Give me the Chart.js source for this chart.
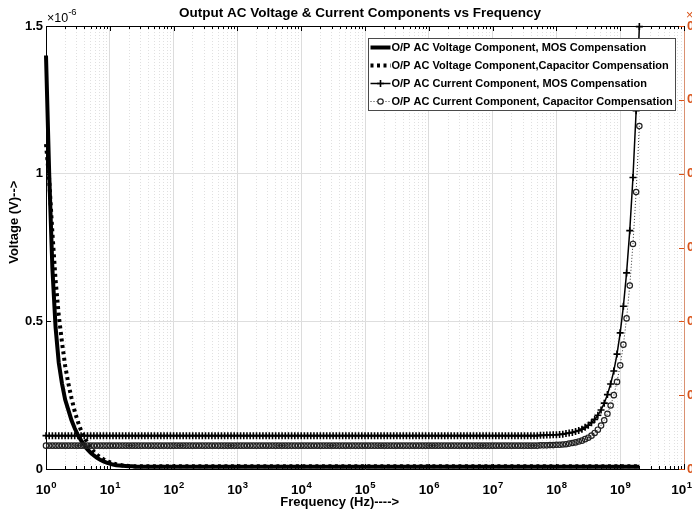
<!DOCTYPE html>
<html>
<head>
<meta charset="utf-8">
<title>Output AC Voltage &amp; Current Components vs Frequency</title>
<script src="https://cdn.jsdelivr.net/npm/chart.js@4.4.1/dist/chart.umd.min.js"></script>
<style>
  html, body { margin: 0; padding: 0; background: #fff; overflow: hidden; }
  canvas { display: block; }
</style>
</head>
<body>
<canvas id="acChart" width="720" height="526"></canvas>
<script>
// Balayage en fréquence : 1 Hz .. 2 GHz, 20 points par décade
const sweepStartExp = 0;
const sweepStepExp = 0.05;
const sweepCount = 187;
const freqHz = [];
for (let i = 0; i < sweepCount; i++) {
    freqHz.push(Math.pow(10, sweepStartExp + i * sweepStepExp));
}

// Valeurs (unité : 1e-6), une ligne par décade
const vMosComp = [
    1.40, 1.00, 0.68, 0.48, 0.36, 0.29, 0.235, 0.20, 0.165, 0.138, 0.115, 0.097, 0.080, 0.066, 0.055, 0.046, 0.038, 0.031, 0.026, 0.022,
    0.018, 0.015, 0.013, 0.012, 0.011, 0.010, 0.009, 0.009, 0.008, 0.008, 0.008, 0.008, 0.008, 0.008, 0.008, 0.008, 0.008, 0.008, 0.008, 0.008,
    0.008, 0.008, 0.008, 0.008, 0.008, 0.008, 0.008, 0.008, 0.008, 0.008, 0.008, 0.008, 0.008, 0.008, 0.008, 0.008, 0.008, 0.008, 0.008, 0.008,
    0.008, 0.008, 0.008, 0.008, 0.008, 0.008, 0.008, 0.008, 0.008, 0.008, 0.008, 0.008, 0.008, 0.008, 0.008, 0.008, 0.008, 0.008, 0.008, 0.008,
    0.008, 0.008, 0.008, 0.008, 0.008, 0.008, 0.008, 0.008, 0.008, 0.008, 0.008, 0.008, 0.008, 0.008, 0.008, 0.008, 0.008, 0.008, 0.008, 0.008,
    0.008, 0.008, 0.008, 0.008, 0.008, 0.008, 0.008, 0.008, 0.008, 0.008, 0.008, 0.008, 0.008, 0.008, 0.008, 0.008, 0.008, 0.008, 0.008, 0.008,
    0.008, 0.008, 0.008, 0.008, 0.008, 0.008, 0.008, 0.008, 0.008, 0.008, 0.008, 0.008, 0.008, 0.008, 0.008, 0.008, 0.008, 0.008, 0.008, 0.008,
    0.008, 0.008, 0.008, 0.008, 0.008, 0.008, 0.008, 0.008, 0.008, 0.008, 0.008, 0.008, 0.008, 0.008, 0.008, 0.008, 0.008, 0.008, 0.008, 0.008,
    0.008, 0.008, 0.008, 0.008, 0.008, 0.008, 0.008, 0.008, 0.008, 0.008, 0.008, 0.008, 0.008, 0.008, 0.008, 0.008, 0.008, 0.008, 0.008, 0.008,
    0.008, 0.008, 0.008, 0.008, 0.008, 0.008, 0.008
];

const vCapComp = [
    1.10, 0.98, 0.80, 0.64, 0.52, 0.43, 0.35, 0.29, 0.24, 0.195, 0.16, 0.13, 0.108, 0.088, 0.072, 0.059, 0.048, 0.040, 0.033, 0.027,
    0.023, 0.019, 0.016, 0.014, 0.012, 0.011, 0.010, 0.010, 0.009, 0.009, 0.009, 0.009, 0.009, 0.009, 0.009, 0.009, 0.009, 0.009, 0.009, 0.009,
    0.009, 0.009, 0.009, 0.009, 0.009, 0.009, 0.009, 0.009, 0.009, 0.009, 0.009, 0.009, 0.009, 0.009, 0.009, 0.009, 0.009, 0.009, 0.009, 0.009,
    0.009, 0.009, 0.009, 0.009, 0.009, 0.009, 0.009, 0.009, 0.009, 0.009, 0.009, 0.009, 0.009, 0.009, 0.009, 0.009, 0.009, 0.009, 0.009, 0.009,
    0.009, 0.009, 0.009, 0.009, 0.009, 0.009, 0.009, 0.009, 0.009, 0.009, 0.009, 0.009, 0.009, 0.009, 0.009, 0.009, 0.009, 0.009, 0.009, 0.009,
    0.009, 0.009, 0.009, 0.009, 0.009, 0.009, 0.009, 0.009, 0.009, 0.009, 0.009, 0.009, 0.009, 0.009, 0.009, 0.009, 0.009, 0.009, 0.009, 0.009,
    0.009, 0.009, 0.009, 0.009, 0.009, 0.009, 0.009, 0.009, 0.009, 0.009, 0.009, 0.009, 0.009, 0.009, 0.009, 0.009, 0.009, 0.009, 0.009, 0.009,
    0.009, 0.009, 0.009, 0.009, 0.009, 0.009, 0.009, 0.009, 0.009, 0.009, 0.009, 0.009, 0.009, 0.009, 0.009, 0.009, 0.009, 0.009, 0.009, 0.009,
    0.009, 0.009, 0.009, 0.009, 0.009, 0.009, 0.009, 0.009, 0.009, 0.009, 0.009, 0.009, 0.009, 0.009, 0.009, 0.009, 0.009, 0.009, 0.009, 0.009,
    0.009, 0.009, 0.009, 0.009, 0.009, 0.009, 0.009
];

const iMosComp = [
    0.113, 0.113, 0.113, 0.113, 0.113, 0.113, 0.113, 0.113, 0.113, 0.113, 0.113, 0.113, 0.113, 0.113, 0.113, 0.113, 0.113, 0.113, 0.113, 0.113,
    0.113, 0.113, 0.113, 0.113, 0.113, 0.113, 0.113, 0.113, 0.113, 0.113, 0.113, 0.113, 0.113, 0.113, 0.113, 0.113, 0.113, 0.113, 0.113, 0.113,
    0.113, 0.113, 0.113, 0.113, 0.113, 0.113, 0.113, 0.113, 0.113, 0.113, 0.113, 0.113, 0.113, 0.113, 0.113, 0.113, 0.113, 0.113, 0.113, 0.113,
    0.113, 0.113, 0.113, 0.113, 0.113, 0.113, 0.113, 0.113, 0.113, 0.113, 0.113, 0.113, 0.113, 0.113, 0.113, 0.113, 0.113, 0.113, 0.113, 0.113,
    0.113, 0.113, 0.113, 0.113, 0.113, 0.113, 0.113, 0.113, 0.113, 0.113, 0.113, 0.113, 0.113, 0.113, 0.113, 0.113, 0.113, 0.113, 0.113, 0.113,
    0.113, 0.113, 0.113, 0.113, 0.113, 0.113, 0.113, 0.113, 0.113, 0.113, 0.113, 0.113, 0.113, 0.113, 0.113, 0.113, 0.113, 0.113, 0.113, 0.113,
    0.113, 0.113, 0.113, 0.113, 0.113, 0.113, 0.113, 0.113, 0.113, 0.113, 0.113, 0.113, 0.113, 0.113, 0.113, 0.113, 0.113, 0.113, 0.113, 0.113,
    0.113, 0.113, 0.113, 0.113, 0.113, 0.113, 0.113, 0.113, 0.113, 0.113, 0.113, 0.113, 0.113, 0.113, 0.113, 0.114, 0.114, 0.115, 0.115, 0.116,
    0.116, 0.117, 0.118, 0.120, 0.122, 0.124, 0.127, 0.130, 0.135, 0.141, 0.148, 0.157, 0.168, 0.182, 0.200, 0.223, 0.252, 0.288, 0.332, 0.389,
    0.461, 0.551, 0.664, 0.807, 0.987, 1.213, 1.498
];

const iCapComp = [
    0.079, 0.079, 0.079, 0.079, 0.079, 0.079, 0.079, 0.079, 0.079, 0.079, 0.079, 0.079, 0.079, 0.079, 0.079, 0.079, 0.079, 0.079, 0.079, 0.079,
    0.079, 0.079, 0.079, 0.079, 0.079, 0.079, 0.079, 0.079, 0.079, 0.079, 0.079, 0.079, 0.079, 0.079, 0.079, 0.079, 0.079, 0.079, 0.079, 0.079,
    0.079, 0.079, 0.079, 0.079, 0.079, 0.079, 0.079, 0.079, 0.079, 0.079, 0.079, 0.079, 0.079, 0.079, 0.079, 0.079, 0.079, 0.079, 0.079, 0.079,
    0.079, 0.079, 0.079, 0.079, 0.079, 0.079, 0.079, 0.079, 0.079, 0.079, 0.079, 0.079, 0.079, 0.079, 0.079, 0.079, 0.079, 0.079, 0.079, 0.079,
    0.079, 0.079, 0.079, 0.079, 0.079, 0.079, 0.079, 0.079, 0.079, 0.079, 0.079, 0.079, 0.079, 0.079, 0.079, 0.079, 0.079, 0.079, 0.079, 0.079,
    0.079, 0.079, 0.079, 0.079, 0.079, 0.079, 0.079, 0.079, 0.079, 0.079, 0.079, 0.079, 0.079, 0.079, 0.079, 0.079, 0.079, 0.079, 0.079, 0.079,
    0.079, 0.079, 0.079, 0.079, 0.079, 0.079, 0.079, 0.079, 0.079, 0.079, 0.079, 0.079, 0.079, 0.079, 0.079, 0.079, 0.079, 0.079, 0.079, 0.079,
    0.079, 0.079, 0.079, 0.079, 0.079, 0.079, 0.079, 0.079, 0.079, 0.079, 0.079, 0.079, 0.079, 0.079, 0.079, 0.080, 0.080, 0.080, 0.081, 0.081,
    0.082, 0.082, 0.083, 0.084, 0.086, 0.088, 0.090, 0.093, 0.096, 0.101, 0.106, 0.113, 0.122, 0.133, 0.147, 0.165, 0.187, 0.215, 0.250, 0.295,
    0.351, 0.421, 0.510, 0.621, 0.762, 0.938, 1.161
];

const seriesLabels = [
    'O/P AC Voltage Component, MOS Compensation',
    'O/P AC Voltage Component,Capacitor Compensation',
    'O/P AC Current Component, MOS Compensation',
    'O/P AC Current Component, Capacitor Compensation'
];

// Graduations
const yTickValues = [0, 0.5, 1, 1.5];
const rightTickValues = [0, 0.05, 0.1, 0.15, 0.2, 0.25, 0.3];
const xDecades = [0, 1, 2, 3, 4, 5, 6, 7, 8, 9, 10];

const FONT = '"Liberation Sans", Arial, Helvetica, sans-serif';
const ORANGE = '#D95319';

function isDecade(v) {
    const e = Math.round(Math.log10(v));
    return Math.abs(v - Math.pow(10, e)) < 1e-6 * v;
}

function toPoints(values) {
    return values.map((v, i) => ({x: freqHz[i], y: v}));
}

// Graduations intérieures + bord supérieur (style MATLAB)
const axisTicks = {
    id: 'axisTicks',
    beforeDatasetsDraw(chart) {
        const {ctx, chartArea: a, scales} = chart;
        ctx.save();
        ctx.lineWidth = 1;
        ctx.strokeStyle = '#000';
        ctx.beginPath();
        ctx.moveTo(a.left, a.top + 0.5);
        ctx.lineTo(a.right, a.top + 0.5);
        scales.x.ticks.forEach(t => {
            const px = Math.round(scales.x.getPixelForValue(t.value)) + 0.5;
            const len = isDecade(t.value) ? 5 : 3;
            ctx.moveTo(px, a.bottom);
            ctx.lineTo(px, a.bottom - len);
            ctx.moveTo(px, a.top);
            ctx.lineTo(px, a.top + len);
        });
        scales.y.ticks.forEach(t => {
            const py = Math.round(scales.y.getPixelForValue(t.value)) + 0.5;
            ctx.moveTo(a.left, py);
            ctx.lineTo(a.left + 5, py);
        });
        ctx.stroke();

        ctx.strokeStyle = ORANGE;
        ctx.beginPath();
        scales.y2.ticks.forEach(t => {
            const py = Math.round(scales.y2.getPixelForValue(t.value)) + 0.5;
            ctx.moveTo(a.right, py);
            ctx.lineTo(a.right - 5, py);
        });
        ctx.stroke();
        ctx.restore();
    }
};

// Étiquettes 10^n de l'axe des fréquences (exposant surélevé)
const decadeLabels = {
    id: 'decadeLabels',
    afterDraw(chart) {
        const {ctx, scales} = chart;
        ctx.save();
        ctx.fillStyle = '#000';
        ctx.textBaseline = 'alphabetic';
        ctx.textAlign = 'left';
        xDecades.forEach(e => {
            const px = scales.x.getPixelForValue(Math.pow(10, e));
            ctx.font = 'bold 13.5px ' + FONT;
            const wBase = ctx.measureText('10').width;
            ctx.font = 'bold 9.5px ' + FONT;
            const wExp = ctx.measureText(String(e)).width;
            const x0 = px - (wBase + wExp) / 2;
            ctx.font = 'bold 13.5px ' + FONT;
            ctx.fillText('10', x0, 494);
            ctx.font = 'bold 9.5px ' + FONT;
            ctx.fillText(String(e), x0 + wBase + 0.5, 488);
        });
        ctx.restore();
    }
};

// Facteurs d'échelle x10^-6 (gauche) et axe droit coupé
const exponentLabels = {
    id: 'exponentLabels',
    afterDraw(chart) {
        const {ctx, chartArea: a} = chart;
        ctx.save();
        ctx.textBaseline = 'alphabetic';
        ctx.textAlign = 'left';
        ctx.fillStyle = '#000';
        ctx.font = '12.5px ' + FONT;
        ctx.fillText('×10', a.left + 1, 21.5);
        const w = ctx.measureText('×10').width;
        ctx.font = '9.5px ' + FONT;
        ctx.fillText('-6', a.left + 1 + w, 14.5);

        ctx.fillStyle = ORANGE;
        ctx.font = '12.5px ' + FONT;
        ctx.fillText('×10', a.right + 2, 19);
        ctx.restore();
    }
};

// Légende encadrée dans la zone de tracé
const boxLegend = {
    id: 'boxLegend',
    afterDraw(chart) {
        const {ctx, chartArea: a} = chart;
        const sets = chart.data.datasets;
        ctx.save();
        ctx.font = 'bold 11px ' + FONT;
        const textW = Math.max(...sets.map(d => ctx.measureText(d.label).width));
        const rowH = 18;
        const boxW = Math.round(textW + 26);
        const boxH = rowH * sets.length;
        const x0 = Math.round(a.right - 9 - boxW) + 0.5;
        const y0 = Math.round(a.top + 12) + 0.5;

        ctx.fillStyle = '#fff';
        ctx.fillRect(x0, y0, boxW, boxH);
        ctx.strokeStyle = '#4a4a4a';
        ctx.lineWidth = 1;
        ctx.strokeRect(x0, y0, boxW, boxH);

        sets.forEach((d, i) => {
            const cy = y0 + 9 + i * rowH;
            const sx1 = x0 + 2, sx2 = x0 + 22, mx = x0 + 12;
            ctx.save();
            ctx.strokeStyle = d.borderColor;
            ctx.lineWidth = d.borderWidth;
            ctx.setLineDash(d.borderDash || []);
            ctx.beginPath();
            ctx.moveTo(sx1, cy);
            ctx.lineTo(sx2, cy);
            ctx.stroke();
            ctx.setLineDash([]);
            if (d.pointRadius > 0) {
                ctx.lineWidth = d.pointBorderWidth;
                ctx.strokeStyle = d.pointBorderColor;
                ctx.beginPath();
                if (d.pointStyle === 'cross') {
                    ctx.moveTo(mx - d.pointRadius, cy);
                    ctx.lineTo(mx + d.pointRadius, cy);
                    ctx.moveTo(mx, cy - d.pointRadius);
                    ctx.lineTo(mx, cy + d.pointRadius);
                } else {
                    ctx.fillStyle = '#fff';
                    ctx.arc(mx, cy, d.pointRadius, 0, Math.PI * 2);
                    ctx.fill();
                }
                ctx.stroke();
            }
            ctx.restore();

            ctx.fillStyle = '#000';
            ctx.textBaseline = 'middle';
            ctx.textAlign = 'left';
            ctx.fillText(d.label, x0 + 23, cy + 0.5);
        });
        ctx.restore();
    }
};

const ctx = document.getElementById('acChart');

const chart = new Chart(ctx, {
    type: 'line',
    data: {
        datasets: [
            {
                label: seriesLabels[0],
                data: toPoints(vMosComp),
                borderColor: '#000',
                borderWidth: 4,
                pointRadius: 0,
                order: 4,
                clip: false
            },
            {
                label: seriesLabels[1],
                data: toPoints(vCapComp),
                borderColor: '#000',
                borderWidth: 4,
                borderDash: [3, 3.5],
                pointRadius: 0,
                order: 3,
                clip: false
            },
            {
                label: seriesLabels[2],
                data: toPoints(iMosComp),
                borderColor: '#000',
                borderWidth: 1.5,
                pointStyle: 'cross',
                pointRadius: 3.5,
                pointBorderWidth: 1.6,
                pointBorderColor: '#000',
                pointBackgroundColor: '#000',
                order: 2,
                clip: false
            },
            {
                label: seriesLabels[3],
                data: toPoints(iCapComp),
                borderColor: '#333',
                borderWidth: 1,
                borderDash: [1, 2],
                pointStyle: 'circle',
                pointRadius: 2.7,
                pointBorderWidth: 1.2,
                pointBorderColor: '#222',
                pointBackgroundColor: 'rgba(0,0,0,0)',
                order: 1,
                clip: false
            }
        ]
    },
    options: {
        responsive: false,
        devicePixelRatio: 1,
        animation: false,
        layout: { padding: 0 },
        plugins: {
            legend: { display: false },
            tooltip: { enabled: false },
            title: {
                display: true,
                text: 'Output AC Voltage & Current Components vs Frequency',
                color: '#000',
                font: { family: FONT, size: 13.5, weight: 'bold' },
                padding: { top: 5.4, bottom: 4.4 }
            }
        },
        scales: {
            x: {
                type: 'logarithmic',
                min: 1,
                max: 1e10,
                afterBuildTicks: (scale) => {
                    const ticks = [];
                    xDecades.forEach(e => {
                        if (e === 10) {
                            ticks.push({value: Math.pow(10, e)});
                            return;
                        }
                        for (let m = 1; m <= 9; m++) ticks.push({value: m * Math.pow(10, e)});
                    });
                    scale.ticks = ticks;
                },
                afterFit: (scale) => { scale.height = 57; },
                ticks: { display: false, autoSkip: false, maxRotation: 0, minRotation: 0 },
                grid: {
                    drawTicks: false,
                    lineWidth: 1,
                    color: (c) => (c.tick && isDecade(c.tick.value)) ? '#dcdcdc' : '#e0e0e0'
                },
                border: {
                    color: '#000',
                    width: 1,
                    dash: (c) => (c.tick && !isDecade(c.tick.value)) ? [1, 2] : []
                },
                title: {
                    display: true,
                    text: 'Frequency (Hz)---->' + ' '.repeat(14),
                    color: '#000',
                    font: { family: FONT, size: 13, weight: 'bold' },
                    padding: { top: 0, bottom: 15.5 }
                }
            },
            y: {
                type: 'linear',
                position: 'left',
                min: 0,
                max: 1.5,
                afterBuildTicks: (scale) => { scale.ticks = yTickValues.map(v => ({value: v})); },
                afterFit: (scale) => { scale.width = 46; },
                ticks: {
                    padding: 3,
                    color: '#000',
                    font: { family: FONT, size: 13, weight: 'bold' },
                    callback: (v) => String(v)
                },
                grid: { drawTicks: false, color: '#dedede' },
                border: { color: '#000', width: 1 },
                title: {
                    display: true,
                    text: ' '.repeat(14) + 'Voltage (V)-->',
                    color: '#000',
                    font: { family: FONT, size: 13, weight: 'bold' },
                    padding: { top: 7, bottom: 0 }
                }
            },
            y2: {
                type: 'linear',
                position: 'right',
                min: 0,
                max: 0.3,
                afterBuildTicks: (scale) => { scale.ticks = rightTickValues.map(v => ({value: v})); },
                afterFit: (scale) => { scale.width = 36; },
                ticks: {
                    padding: 3,
                    color: ORANGE,
                    font: { family: FONT, size: 13, weight: 'bold' }
                },
                grid: { drawTicks: false, drawOnChartArea: false },
                border: { color: 'rgba(217, 83, 25, 0.55)', width: 1 }
            }
        }
    },
    plugins: [axisTicks, decadeLabels, exponentLabels, boxLegend]
});
</script>
</body>
</html>
